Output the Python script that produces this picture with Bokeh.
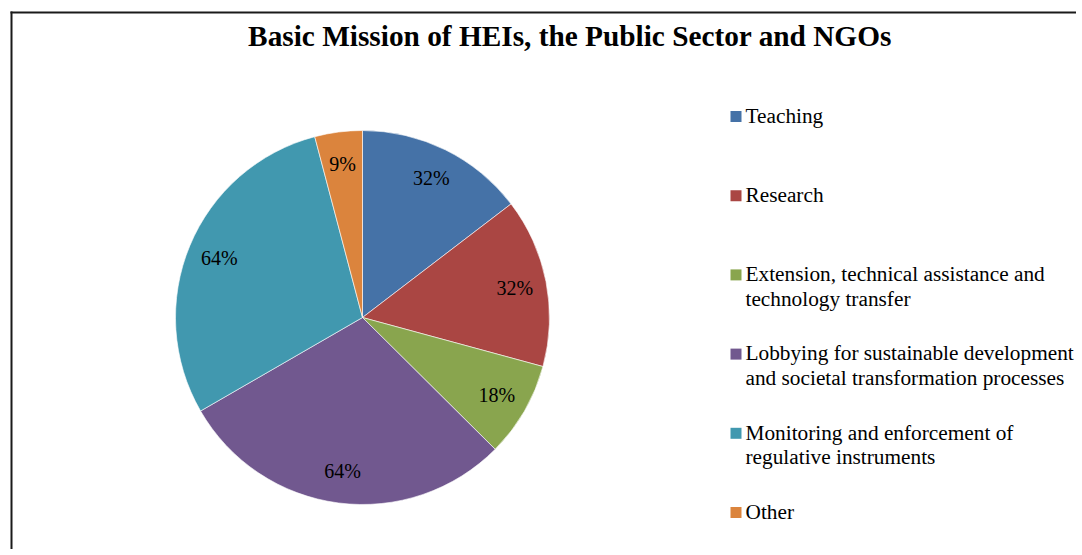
import math
from bokeh.plotting import figure
from bokeh.models import ColumnDataSource, Range1d
from bokeh.embed import file_html
from bokeh.resources import INLINE
from bokeh.core.properties import value

# ---------------- data ----------------
title = "Basic Mission of HEIs, the Public Sector and NGOs"
categories = [
    "Teaching",
    "Research",
    "Extension, technical assistance and\ntechnology transfer",
    "Lobbying for sustainable development\nand societal transformation processes",
    "Monitoring and enforcement of\nregulative instruments",
    "Other",
]
values = [32, 32, 18, 64, 64, 9]
value_labels = ["32%", "32%", "18%", "64%", "64%", "9%"]
colors = ["#4572A7", "#AA4643", "#89A54E", "#71588F", "#4198AF", "#DB843D"]

# ---------------- layout (screen pixel coordinates, y negated) ----------------
W, H = 1076, 549
FONT = "Liberation Serif"

p = figure(width=W, height=H, output_backend="svg", toolbar_location=None,
           x_range=Range1d(0, W), y_range=Range1d(-H, 0),
           x_axis_location=None, y_axis_location=None,
           min_border=0, outline_line_color=None)
p.grid.visible = False
p.background_fill_color = "white"
p.border_fill_color = "white"

# chart border (left + top visible, rest runs off the page)
p.segment(x0=[11, 10], y0=[-11, -12], x1=[11, 1400], y1=[-900, -12],
          line_color="#1a1a1a", line_width=2)

# title
p.text(x=[569.5], y=[-35], text=[title], text_font=value(FONT),
       text_font_style="bold", text_font_size="29.3px",
       text_align="center", text_baseline="middle", text_color="black")

# pie
cx, cy, r = 362, -317, 187
total = float(sum(values))
starts, ends, lx, ly = [], [], [], []
cum = 0.0
for v in values:
    a0 = math.pi / 2 - 2 * math.pi * cum / total
    cum += v
    a1 = math.pi / 2 - 2 * math.pi * cum / total
    starts.append(a0)
    ends.append(a1)
    mid = (a0 + a1) / 2
    lx.append(cx + 0.83 * r * math.cos(mid))
    ly.append(cy + 0.83 * r * math.sin(mid))

src = ColumnDataSource(dict(start=starts, end=ends, color=colors,
                            lx=lx, ly=ly, lab=value_labels))
p.wedge(x=cx, y=cy, radius=r, start_angle="start", end_angle="end",
        direction="clock", fill_color="color", line_color="white",
        line_width=0.6, source=src)
p.text(x="lx", y="ly", text="lab", source=src, text_font=value(FONT),
       text_font_size="20px", text_align="center", text_baseline="middle",
       text_color="black")

# legend
ly0, step, fs = 116, 79.2, 21.3
leg_y = [-(ly0 + step * i) for i in range(len(categories))]
leg_src = ColumnDataSource(dict(
    sx=[735.5] * len(categories), sy=leg_y, color=colors,
    tx=[745] * len(categories), ty=[y + fs * 0.6 for y in leg_y],
    txt=categories))
p.rect(x="sx", y="sy", width=11, height=11, fill_color="color",
       line_color=None, source=leg_src)
p.text(x="tx", y="ty", text="txt", source=leg_src, text_font=value(FONT),
       text_font_size=f"{fs}px", text_align="left", text_baseline="top",
       text_line_height=1.03, text_color="black")

open("out.html", "w").write(file_html(p, INLINE))
